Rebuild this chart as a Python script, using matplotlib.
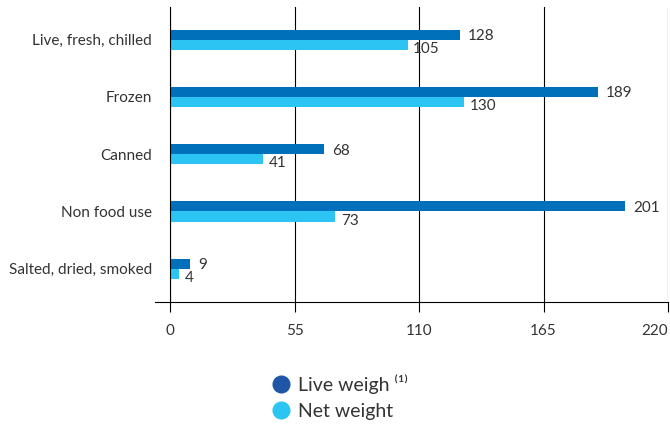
import matplotlib
matplotlib.use("Agg")
import matplotlib.pyplot as plt
from matplotlib.lines import Line2D
import numpy as np

categories = ["Live, fresh, chilled", "Frozen", "Canned", "Non food use", "Salted, dried, smoked"]
live_weight = [128, 189, 68, 201, 9]
net_weight = [105, 130, 41, 73, 4]
x_ticks = [0, 55, 110, 165, 220]
legend_labels = ["Live weigh \u207d\u00b9\u207e", "Net weight"]

dark = "#0070BA"
light = "#2BC4F3"
legend_dark = "#1F57A6"
text_color = "#333333"

plt.rcParams['font.family'] = ['Lato', 'DejaVu Sans']

fig = plt.figure(figsize=(6.7, 4.24), dpi=100)
W, H = 670, 424
left_px, right_px, top_px, bottom_px = 170, 668, 7, 302
ax = fig.add_axes([left_px / W, 1 - bottom_px / H, (right_px - left_px) / W, (bottom_px - top_px) / H])

y = np.arange(len(categories))
h = 0.175
ax.barh(y - h / 2, live_weight, height=h, color=dark, zorder=3)
ax.barh(y + h / 2, net_weight, height=h, color=light, zorder=3)

for yi, v in zip(y, live_weight):
    ax.annotate(str(v), xy=(v, yi - h / 2), xytext=(6, -1), textcoords="offset points",
                va="center", ha="left", fontsize=11, color=text_color)
for yi, v in zip(y, net_weight):
    ax.annotate(str(v), xy=(v, yi + h / 2), xytext=(4, -3), textcoords="offset points",
                va="center", ha="left", fontsize=11, color=text_color)

ax.set_xlim(0, 220)
ax.set_ylim(4.58, -0.57)
ax.set_xticks(x_ticks)
ax.set_xticklabels([str(t) for t in x_ticks], fontsize=11, color=text_color)
ax.get_xticklabels()[-1].set_horizontalalignment('right')
ax.set_yticks(y)
ax.set_yticklabels(categories, fontsize=11, color=text_color)
ax.tick_params(axis='y', length=0, pad=13)
ax.tick_params(axis='x', length=7, width=0.8, color='black', direction='out', pad=9)
ax.grid(axis='x', color='black', linewidth=0.8, zorder=0)
ax.set_axisbelow(True)

for s in ["top", "right", "bottom"]:
    ax.spines[s].set_visible(False)
ax.spines["left"].set_color("black")
ax.spines["left"].set_linewidth(0.8)
ax.spines["left"].set_zorder(4)

ax.add_line(Line2D([-15 / 498, 1], [0, 0], transform=ax.transAxes, color='black',
                   linewidth=0.8, clip_on=False, zorder=4))

handles = [Line2D([], [], marker='o', linestyle='none', markersize=12,
                  markerfacecolor=c, markeredgecolor=c) for c in (legend_dark, light)]
fig.legend(handles, legend_labels, loc='upper left', bbox_to_anchor=(262 / W, 1 - 364 / H),
           frameon=False, fontsize=14, labelcolor=text_color, handletextpad=0.35,
           labelspacing=0.5, handlelength=1.0, borderpad=0)

fig.savefig("out.png", dpi=100)
